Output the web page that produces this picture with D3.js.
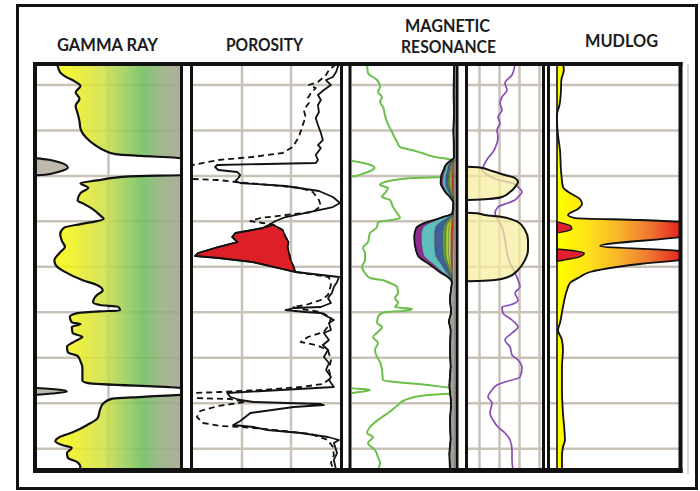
<!DOCTYPE html>
<html>
<head>
<meta charset="utf-8">
<script src="https://cdn.jsdelivr.net/npm/d3@7"></script>
<style>
  html, body { margin: 0; padding: 0; background: #fff; }
  svg { display: block; }
</style>
</head>
<body>
<svg id="chart" width="700" height="491"></svg>
<script>
// ---------------- Log data (depth in ft) ----------------
const trackTitles = [
  { lines: ["GAMMA RAY"], track: "gr" },
  { lines: ["POROSITY"], track: "por" },
  { lines: ["MAGNETIC", "RESONANCE"], track: "mr" },
  { lines: ["MUDLOG"], track: "mud" }
];

const depthGridFt = [1050, 1100, 1150, 1200, 1250, 1300, 1350, 1400, 1450];
const grGridApi = [75];
const porGridPu = [25, 5];
const mrGridUnits = [5, 13, 21, 29];

// Gamma ray, API (values above 150 wrap back from the left edge)
const gammaRay = [[1027,22],[1036,25],[1041,31],[1046,40],[1051,46],[1058,41],[1065,45],[1073,41],[1081,43],[1090,45],[1098,46],[1108,52],[1116,61],[1122,71],[1126,82],[1128,108],[1130,145],[1132,162],[1135,174],[1138,181],[1141,183],[1144,178],[1147,168],[1149,156],[1150.5,97],[1155,63],[1158,46],[1163,54],[1169,46],[1177,43],[1181,50],[1186,58],[1194,67],[1197,70],[1200,62],[1203,46],[1207,29],[1214,25],[1222,27],[1228,30],[1234,25],[1243,19],[1249,21],[1255,29],[1265,49],[1270,63],[1276,69],[1281,63],[1289,59],[1292,66],[1294,85],[1298,87],[1299,66],[1301,43],[1305,35],[1311,37],[1313,46],[1316,37],[1323,38],[1327,48],[1332,40],[1338,32],[1344,33],[1348,43],[1354,46],[1361,48],[1375,48],[1378,54],[1382.5,140],[1384,163],[1386,180],[1387.5,182],[1389,170],[1390.5,155],[1393,111],[1395,79],[1401,69],[1408,66],[1416,64],[1424,53],[1432,38],[1437,25],[1442,20],[1446,27],[1449,37],[1455,32],[1460,33],[1465,43],[1470,46],[1474,43]];

// Density porosity (solid), p.u.
const densityPorosity = [[1027,-14.5],[1035.7,-13.4],[1041.2,-12.1],[1044.5,-9.3],[1050,-11.3],[1055.5,-8.4],[1061,-6],[1066.5,-7.2],[1072,-6],[1079.7,-6.4],[1086.3,-5.1],[1094,-6],[1102.8,-7.2],[1110.5,-8],[1116,-6],[1119.3,-7.2],[1127,-5.1],[1132.5,-6],[1135.8,-5.1],[1138,35.1],[1140.2,36],[1143.5,34.7],[1145.7,26.9],[1149,25.7],[1152.3,26.5],[1155.6,27.7],[1157.8,25.7],[1161.1,7.2],[1166.6,-6.4],[1173.2,-12.1],[1179.8,-15],[1184.2,-12.1],[1187.5,-6.4],[1195.2,7.2],[1199.6,11.3],[1202.9,13.4],[1207.3,16.6],[1209.5,20.8],[1212.8,27.7],[1217.2,29],[1222.7,26.9],[1228.2,34.7],[1234.8,42.9],[1238.1,44.2],[1240.3,34.7],[1244.7,20.8],[1255.7,3.1],[1261.2,-14.6],[1266.7,-13.8],[1272.2,-12.5],[1278.8,-11.7],[1284.3,-10.1],[1289.8,-11.3],[1294.2,-7.2],[1295.3,3.9],[1297.5,7.2],[1299.7,-1],[1300.8,-7.2],[1308.5,-12.5],[1311.8,-10.5],[1319.5,-11.3],[1322.8,-8.4],[1330.5,-10.5],[1336,-8],[1341.5,-10.1],[1349.2,-8.4],[1355.8,-10.5],[1363.5,-9.3],[1371.2,-11.3],[1374.5,-10.5],[1382.2,-12.5],[1388.8,31],[1393.2,29.8],[1396.5,25.7],[1398.7,20.3],[1400.9,-7.2],[1402,-8.4],[1404.2,3.9],[1410.8,21.6],[1419.6,25.7],[1424,28.6],[1426.2,20.3],[1429.5,14.6],[1432.8,1],[1437.2,-10.1],[1440.5,-14.6],[1443.8,-12.5],[1454.8,-13.8],[1462.5,-12.5],[1473.5,-13.4]];

// Neutron porosity (dashed), p.u.
const neutronPorosity = [[1027,-13.4],[1033.5,-10.5],[1039,-9.3],[1046.7,-6],[1050,-2.3],[1053.3,-5.1],[1058.8,-3.1],[1064.3,-1.9],[1069.8,-2.3],[1077.5,-0.2],[1085.2,-1],[1094,0.2],[1107.2,1.8],[1118.2,4.3],[1124.8,8.4],[1129.2,20.8],[1132.5,34.7],[1138,45],[1145.7,54.5],[1153.4,45],[1154.5,34.7],[1156.7,27.7],[1160,13.4],[1163.3,1],[1167.7,-3.9],[1176.5,-6.4],[1183.1,-7.2],[1189.7,-3.9],[1193,7.2],[1196.3,17.5],[1199.6,21.6],[1201.8,16.6],[1204,12.1],[1209.5,8.4],[1217.2,7.2],[1222.7,6],[1228.2,6.4],[1242.5,5.1],[1255.7,3.1],[1261.2,-10.5],[1270,-11.3],[1281,-10.1],[1286.5,-7.2],[1292,-1],[1294.2,4.3],[1296.4,1],[1299.7,-7.2],[1306.3,-11.3],[1314,-10.5],[1321.7,-8.4],[1327.2,-1.9],[1332.7,1],[1336,-5.1],[1341.5,-10.1],[1352.5,-11.3],[1363.5,-10.5],[1372.3,-11.3],[1378.9,-8],[1382.2,1],[1385.5,17.5],[1387.7,33.9],[1388.8,45],[1392.1,54.5],[1394.3,45],[1395.4,29.8],[1398.7,23.6],[1403.1,34.7],[1408.6,42.1],[1415.2,43.4],[1421.8,40.9],[1425.1,33.9],[1426.2,25.7],[1427.3,20.3],[1430.6,8],[1433.9,-3.1],[1440.5,-10.1],[1448.2,-12.1],[1457,-12.5],[1465.8,-11.3],[1473.5,-12.5]];

// Gas crossover interval (density-neutron)
const gasZoneFt = [1204, 1256];

// MR total porosity curve (green), 0-100 (values above 100 wrap)
const mrTotalPorosity = [[1027,14.6],[1036.8,15.5],[1044.5,24.3],[1052.2,27.2],[1057.7,25.2],[1063.2,29.1],[1068.7,27.2],[1074.2,30.1],[1083,32],[1090.7,34],[1101.7,38.8],[1112.7,43.7],[1118.2,46.6],[1121.5,58.3],[1124.8,68],[1129.2,80.6],[1131.4,93],[1134,103],[1136,112],[1138.5,119],[1141,122],[1144,119],[1147,112],[1150,104],[1151.2,90],[1152.3,58],[1156.7,32],[1160,27.2],[1163.3,35],[1168.8,32],[1173.2,29.1],[1176.5,36.9],[1184.2,39.8],[1190.8,43.7],[1196.3,46.6],[1198.5,38.8],[1200.7,25.2],[1206.2,24.3],[1212.8,17.5],[1222.7,15.5],[1229.3,10.7],[1234.8,12.6],[1242.5,12.6],[1250.2,9.7],[1256.8,12.6],[1262.3,17.5],[1264.5,29.1],[1267.8,36.9],[1272.2,43.7],[1278.8,44.7],[1284.3,41.8],[1289.8,44.7],[1294.2,41.8],[1295.3,49.5],[1296.4,58.3],[1298.6,49.5],[1299.7,32],[1305.2,25.2],[1311.8,24.3],[1316.2,29.1],[1321.7,25.2],[1327.2,20.4],[1333.8,25.2],[1341.5,22.3],[1349.2,24.3],[1354.7,27.2],[1363.5,29.1],[1374.5,30.1],[1380,73.8],[1383.3,97],[1384.2,106],[1385.5,117.5],[1387,112],[1388.3,103],[1389.3,96],[1391,74],[1396.5,51.5],[1402,44.7],[1410.8,35],[1418.5,25.2],[1426.2,17.5],[1432.8,14.6],[1437.2,20.4],[1443.8,15.5],[1451.5,22.3],[1459.2,25.2],[1465.8,27.2],[1473.5,25.2]];

// MR partial porosity bins (p.u.), stacked from the right edge
const mrBinDepth = [1027,1060,1080,1100,1120,1130,1133,1138,1144,1149,1158,1163,1168,1174,1180,1191,1196,1202,1207,1217,1232,1239,1248,1256,1261,1267,1275,1285,1300,1310,1320,1340,1360,1380,1400,1420,1440,1455,1474];
const mrBinClayBound = [0.4,0.7,0.5,0.8,0.6,0.6,0.7,0.8,0.8,0.8,0.8,0.8,0.8,0.8,0.8,0.9,0.9,1.0,1.0,1.1,1.2,1.3,1.3,1.4,1.5,1.6,2.0,2.5,2.0,3.0,2.2,2.5,2.2,2.8,2.0,2.5,2.2,2.8,2.5];
const mrBin1 = [0,0,0,0,0,0, 0.2,0.5,0.6,0.7,0.8,0.7,0.5,0.2, 0, 0.1,0.3,0.8,1.0,1.0,1.0,0.9,0.6,0.3,0.1, 0,0,0,0,0,0,0,0,0,0,0,0,0,0];
const mrBin2 = [0,0,0,0,0,0, 0.1,0.3,0.4,0.5,0.5,0.4,0.3,0.1, 0, 0,0.3,0.8,1.0,1.0,1.0,0.9,0.6,0.3,0.1, 0,0,0,0,0,0,0,0,0,0,0,0,0,0];
const mrBin3 = [0,0,0,0,0,0, 0.2,0.5,0.6,0.7,0.8,0.7,0.5,0.2, 0, 0.1,0.5,1.2,1.5,1.6,1.5,1.4,0.9,0.5,0.2, 0,0,0,0,0,0,0,0,0,0,0,0,0,0];
const mrBin4 = [0,0,0,0,0,0, 0.2,0.4,0.6,0.7,0.7,0.6,0.5,0.2, 0, 0.1,0.5,1.2,1.5,1.6,1.5,1.4,0.9,0.5,0.2, 0,0,0,0,0,0,0,0,0,0,0,0,0,0];
const mrBin5 = [0,0,0,0,0,0, 0.3,0.7,0.9,1.1,1.2,1.0,0.7,0.3, 0, 0.1,1.3,3.0,3.8,4.0,3.8,3.5,2.3,1.3,0.5, 0,0,0,0,0,0,0,0,0,0,0,0,0,0];
const mrBin6 = [0,0,0,0,0,0, 0.3,0.9,1.1,1.3,1.4,1.2,0.9,0.3, 0, 0.1,2.2,5.0,6.3,6.7,6.3,5.8,3.8,2.0,0.7, 0,0,0,0,0,0,0,0,0,0,0,0,0,0];
const mrBin7 = [0,0,0,0,0,0, 0.2,0.6,0.8,1.0,1.0,0.8,0.6,0.2, 0, 0,1.2,2.5,3.2,3.4,3.2,2.9,1.9,1.2,0.5, 0,0,0,0,0,0,0,0,0,0,0,0,0,0];

// MR free-fluid shows (right MR track)
const mrFluidUpper = [[1140,0],[1140.5,4.4],[1144.6,10],[1149,15.2],[1152.3,19.2],[1156.7,20.4],[1162.2,19.2],[1167.7,17.2],[1173.2,14],[1175.4,8.4],[1176.5,0]];
const mrFluidLower = [[1190.5,0],[1191,4],[1193,7.2],[1195.2,14],[1200.7,20.4],[1209.5,23.2],[1220.5,24.4],[1231.5,24.4],[1242.5,23.2],[1253.5,20.4],[1261.2,16.4],[1264.5,11.2],[1265.6,4.4],[1266,0]];

// MR T2 curve (purple)
const mrT2Curve = [[1027,19.2],[1039,18],[1047.8,15.2],[1055.5,16],[1063.2,14],[1069.8,13.2],[1077.5,14],[1085.2,12.4],[1091.8,13.2],[1099.5,12],[1107.2,12.4],[1113.8,12],[1123.7,10.4],[1130.3,8.4],[1135.8,7.2],[1143.5,6],[1149,8.4],[1154.5,12.4],[1157.8,18],[1162.2,20.4],[1167.7,22],[1173.2,20.4],[1176.5,19.2],[1179.8,16.4],[1184.2,12.4],[1190.8,11.2],[1198.5,12.4],[1206.2,14],[1220.5,15.2],[1234.8,16],[1245.8,17.2],[1256.8,19.2],[1264.5,20.4],[1272.2,21.2],[1278.8,19.2],[1286.5,20.4],[1292,17.2],[1294.2,14],[1300.8,14.4],[1308.5,18],[1316.2,20.4],[1322.8,18],[1330.5,15.2],[1338.2,17.2],[1347,18],[1352.5,20.4],[1361.3,22],[1371.2,21.2],[1376.7,15.2],[1380,12],[1385.5,10],[1393.2,8.4],[1399.8,10],[1410.8,9.2],[1418.5,10.4],[1426.2,12.4],[1432.8,15.2],[1440.5,17.2],[1451.5,18],[1462.5,18],[1473.5,18.4]];

// Mudlog total gas (units) and heavy gas
const totalGas = [[1027,5],[1033.5,5.5],[1044.5,3.5],[1061,3],[1072,2],[1083,0],[1090.7,0],[1105,0.8],[1121.5,2.4],[1143.5,3.2],[1162.2,4.8],[1168.8,10.5],[1175.4,18.5],[1180.9,20.2],[1186.4,16.9],[1193,8.9],[1196.3,14.5],[1198.5,66.9],[1200.7,101],[1204,115],[1210,120],[1215,112],[1217.2,101],[1227.1,34.7],[1232.6,101],[1235,115],[1239,115],[1242.5,101],[1246.9,66.9],[1250.2,48.4],[1255.7,26.6],[1261.2,18.5],[1267.8,10.5],[1275.5,8.1],[1294.2,4.8],[1311.8,2.4],[1319.5,0.8],[1330.5,4],[1341.5,4.8],[1360.2,4],[1385.5,4],[1410.8,4.8],[1440.5,6.4],[1448.2,4.8],[1459.2,4],[1473.5,4]];
const heavyGas = [[1200.5,0],[1202.5,6],[1205,11],[1208,12],[1211,7],[1213,0],[1230,0],[1232,12],[1235,22],[1239,18],[1242,8],[1244,0]];

// ---------------- Layout ----------------
const svg = d3.select("#chart");
const defs = svg.append("defs");

const panel = { top: 66, bottom: 468 };
const tracks = {
  gr:  { x0: 37,    x1: 180 },
  por: { x0: 193,   x1: 340 },
  mrl: { x0: 351.5, x1: 455.5 },
  mrr: { x0: 468,   x1: 542 },
  mud: { x0: 550,   x1: 679 }
};

const y = d3.scaleLinear().domain([1027, 1473.5]).range([64.1, 470]);
const xGR = d3.scaleLinear().domain([0, 150]).range([36, 181]);
const xPor = d3.scaleLinear().domain([45, -15]).range([193, 340]);
const xMRcurve = d3.scaleLinear().domain([0, 100]).range([352, 455]);
const xMRbin = d3.scaleLinear().domain([0, 51.5]).range([455, 352]);
const xMRright = d3.scaleLinear().domain([0, 30]).range([467, 542]);
const xGas = d3.scaleLinear().domain([0, 100]).range([557, 681]);

const gridColor = "#c9c2b7";
const smooth = d3.curveMonotoneY;

svg.append("rect").attr("width", 700).attr("height", 491).attr("fill", "#fff");

// clip paths, one per track
Object.entries(tracks).forEach(([key, t]) => {
  defs.append("clipPath").attr("id", "clip-" + key)
    .append("rect").attr("x", t.x0).attr("y", panel.top)
    .attr("width", t.x1 - t.x0).attr("height", panel.bottom - panel.top);
});

// gradients
const grGrad = defs.append("linearGradient").attr("id", "grGrad")
  .attr("gradientUnits", "userSpaceOnUse").attr("x1", 37).attr("x2", 180).attr("y1", 0).attr("y2", 0);
[[0, "#ffff00"], [0.23, "#f1f21c"], [0.47, "#d0e04a"], [0.65, "#8fc95a"], [0.74, "#6fbe5c"], [0.86, "#93b07d"], [1, "#a8a18f"]]
  .forEach(([o, c]) => grGrad.append("stop").attr("offset", o).attr("stop-color", c));

const gasGrad = defs.append("linearGradient").attr("id", "gasGrad")
  .attr("gradientUnits", "userSpaceOnUse").attr("x1", 557).attr("x2", 681).attr("y1", 0).attr("y2", 0);
[[0, "#ffff00"], [0.25, "#fde21a"], [0.5, "#f8b42a"], [0.75, "#f07632"], [1, "#e3221f"]]
  .forEach(([o, c]) => gasGrad.append("stop").attr("offset", o).attr("stop-color", c));

// gridlines for a track
function drawGrid(key, xScale, xTicks) {
  const t = tracks[key];
  const g = svg.append("g").attr("clip-path", `url(#clip-${key})`);
  g.selectAll("line.h").data(depthGridFt).join("line")
    .attr("x1", t.x0).attr("x2", t.x1)
    .attr("y1", d => y(d)).attr("y2", d => y(d))
    .attr("stroke", gridColor).attr("stroke-width", 2.5);
  if (xScale) {
    g.selectAll("line.v").data(xTicks).join("line")
      .attr("x1", d => xScale(d)).attr("x2", d => xScale(d))
      .attr("y1", panel.top).attr("y2", panel.bottom)
      .attr("stroke", gridColor).attr("stroke-width", 2.5);
  }
  return g;
}

// runs of a curve that exceed the scale maximum, shifted back to the left edge
function wrapRuns(data, max) {
  const runs = [];
  let cur = null;
  for (let i = 0; i < data.length; i++) {
    const [d, v] = data[i];
    if (v > max) {
      if (!cur) {
        cur = [];
        if (i > 0) {
          const [d0, v0] = data[i - 1];
          cur.push([d0 + (max - v0) / (v - v0) * (d - d0), 0]);
        }
      }
      cur.push([d, v - max]);
    } else if (cur) {
      const [d0, v0] = data[i - 1];
      cur.push([d0 + (v0 - max) / (v0 - v) * (d - d0), 0]);
      runs.push(cur);
      cur = null;
    }
  }
  if (cur) runs.push(cur);
  return runs;
}

// ---------------- Gamma ray track ----------------
drawGrid("gr", xGR, grGridApi);
const grLayer = svg.append("g").attr("clip-path", "url(#clip-gr)");
grLayer.append("path").datum(gammaRay)
  .attr("d", d3.area().curve(smooth)
    .y(d => y(d[0])).x0(d => xGR(Math.min(d[1], 150))).x1(xGR(150)))
  .attr("fill", "url(#grGrad)").attr("fill-opacity", 0.88);
wrapRuns(gammaRay, 150).forEach(run => {
  grLayer.append("path").datum(run)
    .attr("d", d3.area().curve(smooth).y(d => y(d[0])).x0(xGR(0)).x1(d => xGR(d[1])))
    .attr("fill", "#bfb9ad").attr("stroke", "#111").attr("stroke-width", 2);
});
grLayer.append("path").datum(gammaRay)
  .attr("d", d3.line().curve(smooth).y(d => y(d[0])).x(d => xGR(d[1])))
  .attr("fill", "none").attr("stroke", "#111").attr("stroke-width", 2.2).attr("stroke-linejoin", "round");

// ---------------- Porosity track ----------------
drawGrid("por", xPor, porGridPu);
const porLayer = svg.append("g").attr("clip-path", "url(#clip-por)");
const inGas = d => d[0] >= gasZoneFt[0] && d[0] <= gasZoneFt[1];
const gasPoly = densityPorosity.filter(inGas).concat(neutronPorosity.filter(inGas).reverse());
porLayer.append("path").datum(gasPoly)
  .attr("d", d3.line().curve(d3.curveLinearClosed).y(d => y(d[0])).x(d => xPor(d[1])))
  .attr("fill", "#dd1f27").attr("stroke", "#111").attr("stroke-width", 1.6).attr("stroke-linejoin", "round");
const porLine = d3.line().y(d => y(d[0])).x(d => xPor(d[1]));
porLayer.append("path").datum(neutronPorosity).attr("d", porLine)
  .attr("fill", "none").attr("stroke", "#111").attr("stroke-width", 1.8)
  .attr("stroke-dasharray", "6,4").attr("stroke-linejoin", "round");
porLayer.append("path").datum(densityPorosity).attr("d", porLine)
  .attr("fill", "none").attr("stroke", "#111").attr("stroke-width", 1.8).attr("stroke-linejoin", "round");

// ---------------- Magnetic resonance: left track ----------------
drawGrid("mrl", null, []);
const mrlLayer = svg.append("g").attr("clip-path", "url(#clip-mrl)");
mrlLayer.append("path").datum(mrTotalPorosity)
  .attr("d", d3.line().curve(smooth).y(d => y(d[0])).x(d => xMRcurve(d[1])))
  .attr("fill", "none").attr("stroke", "#6cbf4a").attr("stroke-width", 2);
wrapRuns(mrTotalPorosity, 100).forEach(run => {
  mrlLayer.append("path").datum(run)
    .attr("d", d3.line().curve(d3.curveCatmullRom.alpha(0.5)).y(d => y(d[0])).x(d => xMRcurve(d[1])))
    .attr("fill", "none").attr("stroke", "#6cbf4a").attr("stroke-width", 2);
});

const binKeys = ["cbw", "b1", "b2", "b3", "b4", "b5", "b6", "b7"];
const binColors = ["#a29e97", "#e0392e", "#f2e52a", "#a6cf3e", "#55a23d", "#3f5f9f", "#5fbfbd", "#8d2b8e"];
const binSeries = [mrBinClayBound, mrBin1, mrBin2, mrBin3, mrBin4, mrBin5, mrBin6, mrBin7];
const binRows = mrBinDepth.map((d, i) => {
  const row = { depth: d };
  binKeys.forEach((k, j) => row[k] = binSeries[j][i]);
  return row;
});
const stacked = d3.stack().keys(binKeys)(binRows);
const binArea = d3.area().curve(smooth)
  .y(d => y(d.data.depth)).x0(d => xMRbin(d[0])).x1(d => xMRbin(d[1]));
mrlLayer.selectAll("path.bin").data(stacked).join("path")
  .attr("d", binArea)
  .attr("fill", (d, i) => binColors[i])
  .attr("stroke", "#333").attr("stroke-width", 0.4);
mrlLayer.append("path").datum(stacked[stacked.length - 1])
  .attr("d", d3.line().curve(smooth).y(d => y(d.data.depth)).x(d => xMRbin(d[1])))
  .attr("fill", "none").attr("stroke", "#111").attr("stroke-width", 1.8);

// ---------------- Magnetic resonance: right track ----------------
drawGrid("mrr", xMRright, mrGridUnits);
const mrrLayer = svg.append("g").attr("clip-path", "url(#clip-mrr)");
mrrLayer.append("path").datum(mrT2Curve)
  .attr("d", d3.line().curve(smooth).y(d => y(d[0])).x(d => xMRright(d[1])))
  .attr("fill", "none").attr("stroke", "#8a4db6").attr("stroke-width", 1.7);
[mrFluidUpper, mrFluidLower].forEach(show => {
  mrrLayer.append("path").datum(show)
    .attr("d", d3.area().curve(smooth).y(d => y(d[0])).x0(xMRright(0)).x1(d => xMRright(d[1])))
    .attr("fill", "#f7ef9e").attr("fill-opacity", 0.72)
    .attr("stroke", "#111").attr("stroke-width", 2).attr("stroke-linejoin", "round");
});

// ---------------- Mudlog track ----------------
drawGrid("mud", null, []);
const mudLayer = svg.append("g").attr("clip-path", "url(#clip-mud)");
mudLayer.append("path").datum(totalGas)
  .attr("d", d3.area().curve(smooth).y(d => y(d[0])).x0(xGas(0)).x1(d => xGas(d[1])))
  .attr("fill", "url(#gasGrad)");
mudLayer.append("path").datum(heavyGas)
  .attr("d", d3.area().curve(smooth).y(d => y(d[0])).x0(xGas(0)).x1(d => xGas(d[1])))
  .attr("fill", "#e0202a").attr("stroke", "#111").attr("stroke-width", 1.4);
mudLayer.append("path").datum(totalGas)
  .attr("d", d3.line().curve(smooth).y(d => y(d[0])).x(d => xGas(d[1])))
  .attr("fill", "none").attr("stroke", "#111").attr("stroke-width", 1.8).attr("stroke-linejoin", "round");
mudLayer.append("line")
  .attr("x1", xGas(0)).attr("x2", xGas(0)).attr("y1", panel.top).attr("y2", panel.bottom)
  .attr("stroke", "#111").attr("stroke-width", 1.6);

// ---------------- Frames ----------------
svg.append("line").attr("x1", 688).attr("x2", 688).attr("y1", 64).attr("y2", 474)
  .attr("stroke", "#dadada").attr("stroke-width", 2);

const borderX = [[35, 4], [181.5, 3], [191.5, 3], [341.5, 3], [350, 3], [457, 3], [466.5, 3], [543.5, 3], [548.5, 3], [680.5, 4]];
svg.selectAll("line.border").data(borderX).join("line")
  .attr("x1", d => d[0]).attr("x2", d => d[0]).attr("y1", 62).attr("y2", 473)
  .attr("stroke", "#111").attr("stroke-width", d => d[1]);
svg.append("line").attr("x1", 33).attr("x2", 682.5).attr("y1", 64).attr("y2", 64)
  .attr("stroke", "#111").attr("stroke-width", 4);
svg.append("line").attr("x1", 33).attr("x2", 682.5).attr("y1", 470.5).attr("y2", 470.5)
  .attr("stroke", "#111").attr("stroke-width", 5);

svg.append("rect").attr("x", 17.5).attr("y", 5.5).attr("width", 679).attr("height", 483)
  .attr("fill", "none").attr("stroke", "#111").attr("stroke-width", 3);

// ---------------- Track titles ----------------
const titleLayout = {
  gr:  [{ x: 57,  base: 51, len: 101 }],
  por: [{ x: 226, base: 51, len: 77 }],
  mr:  [{ x: 405, base: 32, len: 85 }, { x: 401, base: 53, len: 95 }],
  mud: [{ x: 585, base: 47, len: 73 }]
};
trackTitles.forEach(t => {
  t.lines.forEach((txt, i) => {
    const p = titleLayout[t.track][i];
    svg.append("text").text(txt)
      .attr("x", p.x).attr("y", p.base)
      .attr("textLength", p.len).attr("lengthAdjust", "spacingAndGlyphs")
      .attr("font-family", "Lato, 'Open Sans', sans-serif")
      .attr("font-weight", 700).attr("font-size", 16.5)
      .attr("fill", "#1c1c1c");
  });
});
</script>
</body>
</html>
